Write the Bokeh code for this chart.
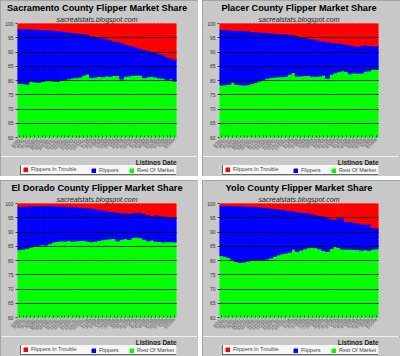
from math import pi
from bokeh.plotting import figure
from bokeh.models import (ColumnDataSource, Range1d, FactorRange, FixedTicker,
                          Title, Legend, LegendItem)
from bokeh.layouts import row, column
from bokeh.embed import file_html
from bokeh.resources import INLINE

dates = ["9/3/07", "9/10/07", "9/17/07", "9/24/07", "10/1/07", "10/8/07", "10/15/07",
         "10/22/07", "10/29/07", "11/5/07", "11/12/07", "11/19/07", "11/26/07", "12/3/07",
         "12/10/07", "12/17/07", "12/24/07", "12/31/07", "1/7/08", "1/14/08", "1/21/08",
         "1/28/08", "2/4/08", "2/11/08", "2/18/08", "2/25/08", "3/3/08", "3/10/08",
         "3/17/08", "3/24/08", "3/31/08", "4/7/08", "4/14/08", "4/21/08", "4/28/08",
         "5/5/08", "5/12/08", "5/19/08", "5/26/08", "6/2/08", "6/9/08", "6/16/08"]

sac_rest = [79.0, 78.9, 78.7, 79.7, 79.5, 79.3, 79.6, 79.9, 79.9, 79.8, 79.7, 80.1, 80.3, 80.6,
            80.9, 81.0, 81.2, 81.9, 82.3, 81.0, 81.2, 81.4, 81.3, 81.6, 81.5, 81.8, 81.8, 80.5,
            81.5, 81.6, 81.8, 81.9, 81.9, 81.0, 81.3, 81.4, 81.2, 80.9, 80.8, 80.3, 80.6, 79.8]
sac_trouble = [1.8, 1.8, 1.9, 1.9, 2.0, 2.0, 2.1, 2.2, 2.3, 2.4, 2.5, 2.6, 2.8, 3.0, 3.1, 3.3,
               3.5, 3.6, 3.7, 4.3, 4.5, 4.8, 5.1, 5.4, 5.7, 6.2, 6.4, 6.7, 7.2, 7.6, 7.9, 8.3,
               8.7, 9.1, 9.4, 9.8, 10.2, 10.6, 11.0, 11.7, 12.1, 12.5]

pla_rest = [78.4, 78.5, 78.7, 79.4, 78.7, 78.5, 78.4, 78.5, 78.9, 79.3, 79.8, 80.3, 80.8, 81.0,
            81.2, 81.3, 81.3, 81.5, 82.2, 82.8, 81.6, 81.6, 81.7, 81.8, 81.5, 81.5, 81.6, 81.9,
            80.8, 82.2, 82.7, 83.1, 83.4, 83.2, 82.4, 82.7, 82.6, 82.6, 83.3, 83.4, 84.0, 83.9]
pla_trouble = [2.1, 2.2, 2.3, 2.4, 2.4, 2.5, 2.5, 2.6, 2.8, 2.9, 3.0, 3.1, 3.1, 3.3, 3.4, 3.5,
               3.6, 3.7, 3.8, 4.0, 4.3, 4.6, 4.9, 5.2, 5.4, 5.7, 5.9, 6.1, 6.4, 6.6, 6.7, 6.8,
               7.0, 7.4, 7.5, 7.8, 8.0, 7.7, 7.5, 7.7, 7.7, 7.9]

eld_rest = [83.8, 84.0, 84.3, 84.7, 85.1, 85.3, 85.5, 85.4, 85.9, 86.5, 86.7, 86.9, 86.8, 87.0,
            86.8, 86.9, 87.0, 87.1, 86.8, 86.6, 86.8, 87.0, 87.3, 87.5, 87.6, 87.7, 86.9, 87.5,
            87.7, 87.4, 88.1, 88.2, 88.0, 87.5, 86.9, 87.2, 86.8, 86.7, 86.5, 86.6, 86.6, 86.5]
eld_trouble = [1.0, 1.0, 0.9, 0.8, 0.7, 0.9, 0.7, 0.8, 0.8, 0.8, 0.9, 0.9, 0.9, 1.1, 1.2, 1.2,
               1.3, 1.4, 1.5, 1.6, 1.8, 2.1, 2.3, 2.5, 2.7, 2.9, 3.1, 3.3, 3.3, 3.4, 3.3, 3.2,
               3.1, 3.5, 3.9, 4.2, 4.0, 4.1, 4.4, 4.5, 4.7, 4.9]

yolo_rest = [81.7, 81.5, 81.0, 80.3, 79.6, 79.3, 79.5, 79.8, 80.0, 80.2, 80.3, 80.0, 80.5, 80.9,
             81.5, 82.0, 82.4, 82.6, 82.9, 84.0, 83.2, 83.7, 84.1, 84.5, 84.6, 84.5, 84.1, 83.5,
             83.2, 84.2, 85.0, 84.6, 84.0, 84.0, 84.0, 83.9, 83.8, 83.6, 83.8, 83.6, 84.0, 84.1]
yolo_trouble = [0.7, 0.7, 0.8, 0.8, 0.8, 0.9, 0.9, 1.0, 1.0, 1.1, 1.2, 1.3, 1.5, 1.6, 1.7, 1.9,
                2.1, 2.3, 2.5, 2.6, 2.8, 3.0, 3.2, 3.3, 3.6, 3.9, 4.2, 4.4, 4.7, 5.4, 5.5, 5.0,
                5.1, 6.3, 6.4, 6.5, 6.8, 7.2, 7.3, 7.1, 8.5, 8.6]

y_ticks = [60, 65, 70, 75, 80, 85, 90, 95, 100]
series_labels = ["Flippers In Trouble", "Flippers", "Rest Of Market"]

RED, BLUE, GREEN = "#ff0000", "#0000ff", "#00ff00"
BG = "#c8c8c8"
FONT = "Liberation Sans"


def legend_box(label, renderer, x, framed):
    return Legend(items=[LegendItem(label=label, renderers=[renderer])],
                  orientation="horizontal", location=(x, 1),
                  label_text_font_size="5.5px", label_text_font=FONT, label_height=5,
                  glyph_height=5, glyph_width=5, label_standoff=3,
                  label_width=149 if framed else 20,
                  spacing=0, padding=2, margin=0,
                  background_fill_color="#f6f6f6",
                  background_fill_alpha=1.0 if framed else 0.0,
                  border_line_color="#666666", border_line_width=1,
                  border_line_alpha=1.0 if framed else 0.0)


def panel(name, rest, trouble):
    flippers = [round(100 - r - t, 2) for r, t in zip(rest, trouble)]
    src = ColumnDataSource(dict(x=dates, rest=rest, flippers=flippers, trouble=trouble))
    p = figure(width=198, height=156, x_range=FactorRange(*dates), y_range=Range1d(60, 100),
               output_backend="svg", toolbar_location=None,
               min_border_left=17, min_border_right=22, min_border_top=22, min_border_bottom=15,
               border_fill_color=BG, background_fill_color=BG, outline_line_color=None)
    p.vbar_stack(["rest", "flippers", "trouble"], x="x", width=1.0,
                 color=[GREEN, BLUE, RED], source=src)

    p.xgrid.grid_line_color = None
    p.ygrid.grid_line_color = "black"
    p.ygrid.grid_line_width = 0.8
    p.ygrid.level = "overlay"
    p.yaxis.ticker = FixedTicker(ticks=y_ticks)
    p.yaxis.axis_line_color = None
    p.yaxis.major_tick_out = 2
    p.yaxis.major_tick_in = 0
    p.yaxis.minor_tick_line_color = None
    p.yaxis.major_tick_line_color = "#444444"
    p.yaxis.major_label_text_font_size = "5px"
    p.yaxis.major_label_text_font = FONT
    p.yaxis.major_label_text_color = "#333333"
    p.yaxis.major_label_standoff = 2

    p.xaxis.axis_line_color = None
    p.xaxis.major_tick_in = 2
    p.xaxis.major_tick_out = 0
    p.xaxis.major_tick_line_color = "#444444"
    p.xaxis.major_label_orientation = pi / 4
    p.xaxis.major_label_text_font_size = "4px"
    p.xaxis.major_label_text_font = FONT
    p.xaxis.major_label_text_color = "#444444"
    p.xaxis.major_label_standoff = 1

    p.add_layout(Title(text="sacrealstats.blogspot.com", text_font_style="italic",
                       text_font_size="7px", text_font=FONT, text_color="#222222",
                       align="center", standoff=2), "above")
    p.add_layout(Title(text=name + " County Flipper Market Share", text_font_style="bold",
                       text_font_size="9.2px", text_font=FONT, text_color="black",
                       align="center", standoff=0), "above")

    # strip below the chart: axis name and legend (legend keys use the same data,
    # drawn outside this strip's visible range)
    lp = figure(width=198, height=20, x_range=FactorRange(*dates), y_range=Range1d(200, 201),
                output_backend="svg", toolbar_location=None, x_axis_type=None,
                y_axis_type=None, min_border_left=0, min_border_right=22,
                min_border_top=0, min_border_bottom=0, border_fill_color=BG,
                background_fill_color=BG, outline_line_color=None)
    lp.grid.grid_line_color = None
    rs = lp.vbar_stack(["rest", "flippers", "trouble"], x="x", width=1.0,
                       color=[GREEN, BLUE, RED], source=src)
    lp.add_layout(Title(text="Listings Date", text_font_style="bold", text_font_size="6.5px",
                        text_font=FONT, text_color="#222222", align="right",
                        standoff=0), "above")
    lp.add_layout(legend_box(series_labels[0], rs[2], 3, True))
    lp.add_layout(legend_box(series_labels[1], rs[1], 72, False))
    lp.add_layout(legend_box(series_labels[2], rs[0], 110, False))

    return column(p, lp, spacing=0,
                  styles={"outline": "1px solid #9a9a9a", "outline-offset": "-1px"})


c1 = panel("Sacramento", sac_rest, sac_trouble)
c2 = panel("Placer", pla_rest, pla_trouble)
c3 = panel("El Dorado", eld_rest, eld_trouble)
c4 = panel("Yolo", yolo_rest, yolo_trouble)

layout = column(row(c1, c2, spacing=4), row(c3, c4, spacing=4), spacing=4)
open("out.html", "w").write(file_html(layout, INLINE))
